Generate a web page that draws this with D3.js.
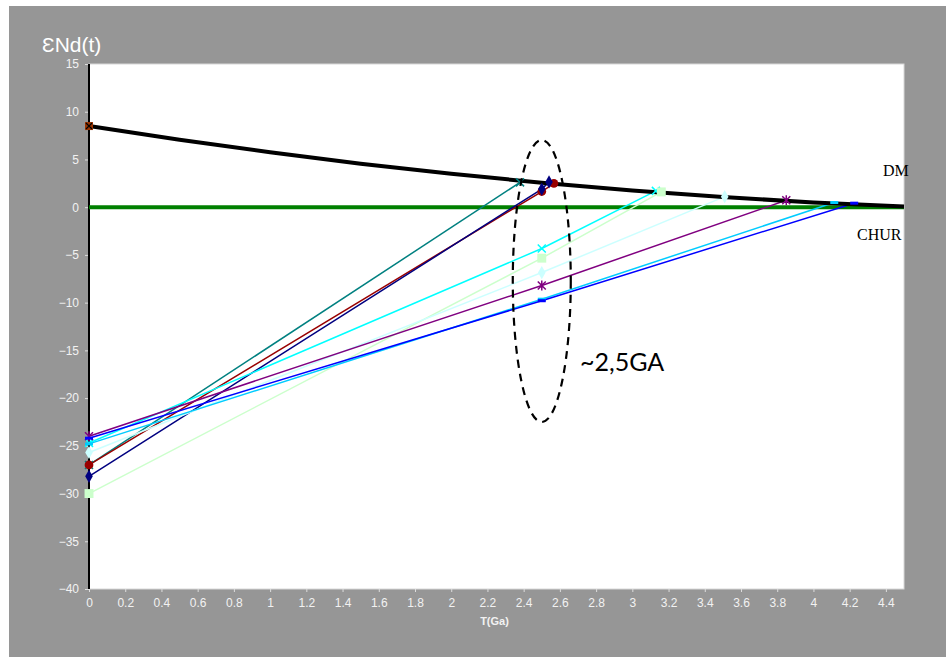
<!DOCTYPE html>
<html><head><meta charset="utf-8">
<script src="https://cdn.jsdelivr.net/npm/d3@7"></script>
<style>html,body{margin:0;padding:0;background:#fff;}svg{display:block;}</style>
</head><body>
<script>
// ---- data ----
const xTicks = [0,0.2,0.4,0.6,0.8,1,1.2,1.4,1.6,1.8,2,2.2,2.4,2.6,2.8,3,3.2,3.4,3.6,3.8,4,4.2,4.4];
const yTicks = [15,10,5,0,-5,-10,-15,-20,-25,-30,-35,-40];
const dmT   = [0,0.5,1,1.5,2,2.5,3,3.5,4,4.5];
const dmEps = [8.5,7.06,5.75,4.56,3.5,2.56,1.75,1.06,0.5,0.06];
const churT = [0,4.5];
const churEps = [0,0];
const sampleColors  = ["#008080","#990000","#000080","#00FFFF","#CCFFCC","#CCFFFF","#800080","#00CCFF","#0000FF"];
const sampleMarkers = ["x","circle","diamond","x","square","diamond","star","bar","bar"];
const sampleT = [
  [0,2.38],
  [0,2.5,2.567],
  [0,2.5,2.54],
  [0,2.5,3.13],
  [0,2.5,3.16],
  [0,2.5,3.51],
  [0,2.5,3.85],
  [0,2.5,4.115],
  [0,2.5,4.225]
];
const sampleEps = [
  [-27.0,2.6],
  [-27.0,1.64,2.5],
  [-28.2,1.9,2.65],
  [-24.7,-4.33,1.71],
  [-30.0,-5.34,1.6],
  [-25.7,-6.85,1.1],
  [-24.0,-8.2,0.73],
  [-24.8,-9.64,0.49],
  [-24.2,-9.8,0.42]
];

// ---- layout ----
const W = 946, H = 657;
const L = 89, R = 904, T = 64, B = 589;
const svg = d3.select("body").append("svg").attr("width",W).attr("height",H);
svg.append("rect").attr("x",9).attr("y",6).attr("width",W-9).attr("height",H-6).attr("fill","#969696");
svg.append("rect").attr("x",L).attr("y",T).attr("width",R-L).attr("height",B-T)
   .attr("fill","#fff").attr("stroke","#d8d8d8").attr("stroke-width",1);

const x = d3.scaleLinear().domain([0,4.5]).range([L,R]);
const y = d3.scaleLinear().domain([-40,15]).range([B,T]);

// axes
const yAxis = d3.axisLeft(y).tickValues(yTicks).tickSize(4).tickPadding(6).tickFormat(d3.format("d"));
const gy = svg.append("g").attr("transform",`translate(${L},0)`).call(yAxis);
gy.select(".domain").remove();
gy.selectAll("line").attr("stroke","#dddddd");
gy.selectAll("text").attr("fill","#f2f2f2").attr("font-family","Liberation Sans, Arial, sans-serif").attr("font-size",12);

const xAxis = d3.axisBottom(x).tickValues(xTicks).tickSize(3).tickPadding(6).tickFormat(d => String(d));
const gx = svg.append("g").attr("transform",`translate(0,${B})`).call(xAxis);
gx.select(".domain").remove();
gx.selectAll("line").attr("stroke","#dddddd");
gx.selectAll("text").attr("fill","#f2f2f2").attr("font-family","Liberation Sans, Arial, sans-serif").attr("font-size",12);

// y axis line
svg.append("line").attr("x1",L).attr("x2",L).attr("y1",T).attr("y2",B).attr("stroke","#000").attr("stroke-width",2);

// titles
svg.append("text").attr("x",42).attr("y",52).attr("fill","#fff")
  .attr("font-family","Liberation Sans, Arial, sans-serif").attr("font-size",21).text("ƐNd(t)");
svg.append("text").attr("x",(L+R)/2 - 2).attr("y",625).attr("text-anchor","middle").attr("fill","#f2f2f2")
  .attr("font-family","Liberation Sans, Arial, sans-serif").attr("font-size",11).attr("font-weight","bold").text("T(Ga)");

const line = d3.line().x(d=>x(d[0])).y(d=>y(d[1]));

// CHUR
svg.append("path").datum(churT.map((t,i)=>[t,churEps[i]])).attr("d",line)
  .attr("fill","none").attr("stroke","#008000").attr("stroke-width",4);

// samples
const sym = {
  circle: d3.symbol().type(d3.symbolCircle).size(60),
  diamond: d3.symbol().type(d3.symbolDiamond).size(50),
  square: d3.symbol().type(d3.symbolSquare).size(80)
};
sampleT.forEach((ts,i) => {
  const pts = ts.map((t,j)=>[t,sampleEps[i][j]]);
  const c = sampleColors[i];
  svg.append("path").datum(pts).attr("d",line).attr("fill","none").attr("stroke",c).attr("stroke-width",1.5);
});

// DM
svg.append("path").datum(dmT.map((t,i)=>[t,dmEps[i]])).attr("d",d3.line().curve(d3.curveMonotoneX).x(d=>x(d[0])).y(d=>y(d[1])))
  .attr("fill","none").attr("stroke","#000").attr("stroke-width",4);

// markers
sampleT.forEach((ts,i) => {
  const c = sampleColors[i], m = sampleMarkers[i];
  ts.forEach((t,j) => {
    const px = x(t), py = y(sampleEps[i][j]);
    const g = svg.append("g").attr("transform",`translate(${px},${py})`);
    if (m === "x") {
      g.append("path").attr("d","M-4,-4L4,4M-4,4L4,-4").attr("stroke",c).attr("stroke-width",1.5);
    } else if (m === "star") {
      g.append("path").attr("d","M-4,-4L4,4M-4,4L4,-4M0,-5L0,5").attr("stroke",c).attr("stroke-width",1.5);
    } else if (m === "bar") {
      g.append("rect").attr("x",-4).attr("y",-1.5).attr("width",8).attr("height",3).attr("fill",c);
    } else {
      g.append("path").attr("d",sym[m]()).attr("fill",c);
    }
  });
});
// DM start marker
const g0 = svg.append("g").attr("transform",`translate(${x(dmT[0])},${y(dmEps[0])})`);
g0.append("rect").attr("x",-4).attr("y",-4).attr("width",8).attr("height",8).attr("fill","#993300");
g0.append("path").attr("d","M-3,-3L3,3M-3,3L3,-3").attr("stroke","#000").attr("stroke-width",1.2);

// labels
svg.append("text").attr("x",883).attr("y",176).attr("font-family","Liberation Serif, Times New Roman, serif").attr("font-size",16).text("DM");
svg.append("text").attr("x",857).attr("y",240).attr("font-family","Liberation Serif, Times New Roman, serif").attr("font-size",16).text("CHUR");

// ellipse + annotation
svg.append("ellipse").attr("cx",x(2.5)).attr("cy",281).attr("rx",29).attr("ry",141)
  .attr("fill","none").attr("stroke","#000").attr("stroke-width",2.2).attr("stroke-dasharray","8,6");
svg.append("text").attr("x",580).attr("y",371).attr("font-family","Lato, Open Sans, sans-serif").attr("font-size",25).text("~2,5GA");
</script>
</body></html>
